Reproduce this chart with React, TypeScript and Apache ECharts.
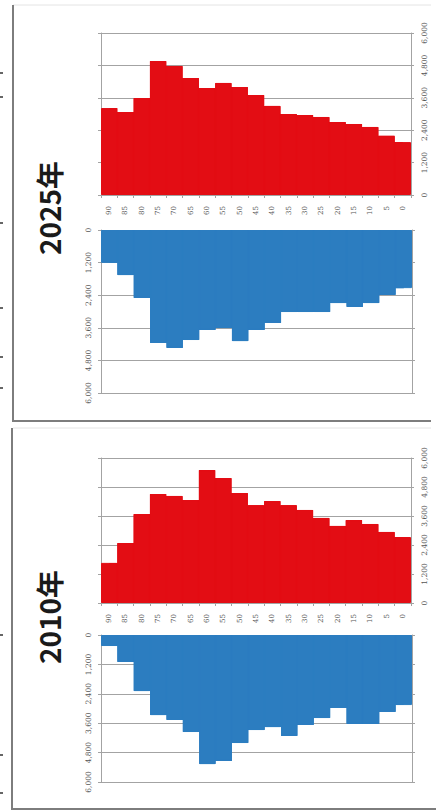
import React, { useEffect, useRef } from "react";
import * as echarts from "echarts";

const ages = ["90", "85", "80", "75", "70", "65", "60", "55", "50", "45", "40", "35", "30", "25", "20", "15", "10", "5", "0"];
const valueTicks = [0, 1200, 2400, 3600, 4800, 6000];

const red2025 = [3220, 3070, 3590, 4960, 4780, 4330, 3960, 4150, 4000, 3700, 3300, 3000, 2960, 2890, 2700, 2630, 2520, 2190, 1960];
const blue2025 = [1210, 1660, 2500, 4160, 4340, 4050, 3680, 3610, 4090, 3680, 3420, 3020, 3020, 3020, 2690, 2830, 2690, 2390, 2140];
const red2010 = [1660, 2480, 3680, 4510, 4430, 4260, 5500, 5170, 4550, 4050, 4220, 4050, 3850, 3520, 3190, 3430, 3270, 2940, 2730];
const blue2010 = [450, 1100, 2290, 3270, 3470, 3960, 5270, 5140, 4410, 3880, 3760, 4120, 3670, 3390, 2980, 3630, 3630, 3140, 2860];

const titles = ["2025年", "2010年"];

const RED = "#e30d14";
const BLUE = "#2c7dc0";
const GRID = "#a3a3a3";
const LABEL = "#555";

export default function App() {
  const ref = useRef<HTMLDivElement>(null);
  useEffect(() => {
    if (!ref.current) return;
    const chart = echarts.init(ref.current, null, { renderer: "svg" });
    const vmin = valueTicks[0];
    const vmax = valueTicks[valueTicks.length - 1];
    const vint = valueTicks[1] - valueTicks[0];

    const grids = [
      { left: 101, top: 33, width: 310, height: 162 },
      { left: 101, top: 230, width: 311, height: 163 },
      { left: 101, top: 458, width: 310, height: 145 },
      { left: 101, top: 635, width: 311, height: 147 },
    ];

    const catAxis = (gi: number, isRed: boolean) => ({
      type: "category",
      gridIndex: gi,
      data: ages,
      position: isRed ? "bottom" : "top",
      splitLine: { show: false },
      splitArea: { show: false },
      axisLine: { show: isRed, lineStyle: { color: GRID } },
      axisTick: { show: isRed, length: 3, lineStyle: { color: GRID } },
      axisLabel: {
        show: isRed,
        rotate: 90,
        interval: 0,
        margin: 11,
        fontSize: 7,
        color: LABEL,
        fontFamily: "DejaVu Serif",
      },
    });

    const valAxis = (gi: number, position: string, inverse: boolean, showLabel: boolean, split: boolean) => ({
      type: "value",
      gridIndex: gi,
      position,
      inverse,
      min: vmin,
      max: vmax,
      interval: vint,
      axisLine: { show: true, lineStyle: { color: GRID } },
      axisTick: { show: true, length: 3, lineStyle: { color: GRID } },
      axisLabel: {
        show: showLabel,
        rotate: 90,
        margin: 9,
        fontSize: 7.5,
        color: LABEL,
        fontFamily: "DejaVu Serif",
      },
      splitArea: { show: false },
      splitLine: { show: split, lineStyle: { color: GRID, width: 1 } },
    });

    const xAxis = [catAxis(0, true), catAxis(1, false), catAxis(2, true), catAxis(3, false)];
    const yAxis = [
      valAxis(0, "right", false, true, true),
      valAxis(0, "left", false, false, false),
      valAxis(1, "left", true, true, true),
      valAxis(1, "right", true, false, false),
      valAxis(2, "right", false, true, true),
      valAxis(2, "left", false, false, false),
      valAxis(3, "left", true, true, true),
      valAxis(3, "right", true, false, false),
    ];

    const bar = (xi: number, yi: number, data: number[], color: string) => ({
      type: "bar",
      xAxisIndex: xi,
      yAxisIndex: yi,
      data,
      barCategoryGap: "0%",
      itemStyle: { color, borderColor: color, borderWidth: 1 },
      silent: true,
      z: 3,
    });

    const fill = (xi: number, yi: number, data: number[], color: string) => ({
      type: "line",
      xAxisIndex: xi,
      yAxisIndex: yi,
      data,
      step: "middle",
      symbol: "none",
      lineStyle: { width: 0, color },
      areaStyle: { color, opacity: 1 },
      silent: true,
      z: 2,
    });

    const series = [
      fill(0, 0, red2025, RED),
      bar(0, 0, red2025, RED),
      fill(1, 2, blue2025, BLUE),
      bar(1, 2, blue2025, BLUE),
      fill(2, 4, red2010, RED),
      bar(2, 4, red2010, RED),
      fill(3, 6, blue2010, BLUE),
      bar(3, 6, blue2010, BLUE),
    ];

    const line = (x1: number, y1: number, x2: number, y2: number, stroke: string, lineWidth: number) => ({
      type: "line",
      shape: { x1, y1, x2, y2 },
      style: { stroke, lineWidth },
      silent: true,
    });

    const marks = [73, 97, 223, 308, 357, 388, 635, 755, 793].map((y) => line(0, y, 3, y, "#333", 1.5));

    const titleText = (text: string, y: number) => ({
      type: "text",
      x: 49,
      y,
      rotation: Math.PI / 2,
      style: {
        text,
        fontSize: 28,
        fontWeight: "bold",
        fontFamily: "Noto Sans CJK JP",
        fill: "#1a1a1a",
        align: "center",
        verticalAlign: "middle",
      },
    });

    const graphic = [
      line(13, 5, 431, 5, "#e4e4e4", 1),
      line(13, 5, 13, 422, "#7d7d7d", 2),
      line(12, 421, 431, 421, "#7d7d7d", 2),
      line(13, 428, 431, 428, "#e4e4e4", 1),
      line(12, 428, 12, 810, "#7d7d7d", 2),
      line(11, 809, 436, 809, "#7d7d7d", 2),
      ...marks,
      titleText(titles[0], 208),
      titleText(titles[1], 617),
    ];

    chart.setOption({
      animation: false,
      backgroundColor: "#ffffff",
      grid: grids,
      xAxis,
      yAxis,
      series,
      graphic,
    });
    return () => chart.dispose();
  }, []);

  return <div ref={ref} style={{ position: "absolute", left: 0, top: 0, width: 436, height: 812 }} />;
}
